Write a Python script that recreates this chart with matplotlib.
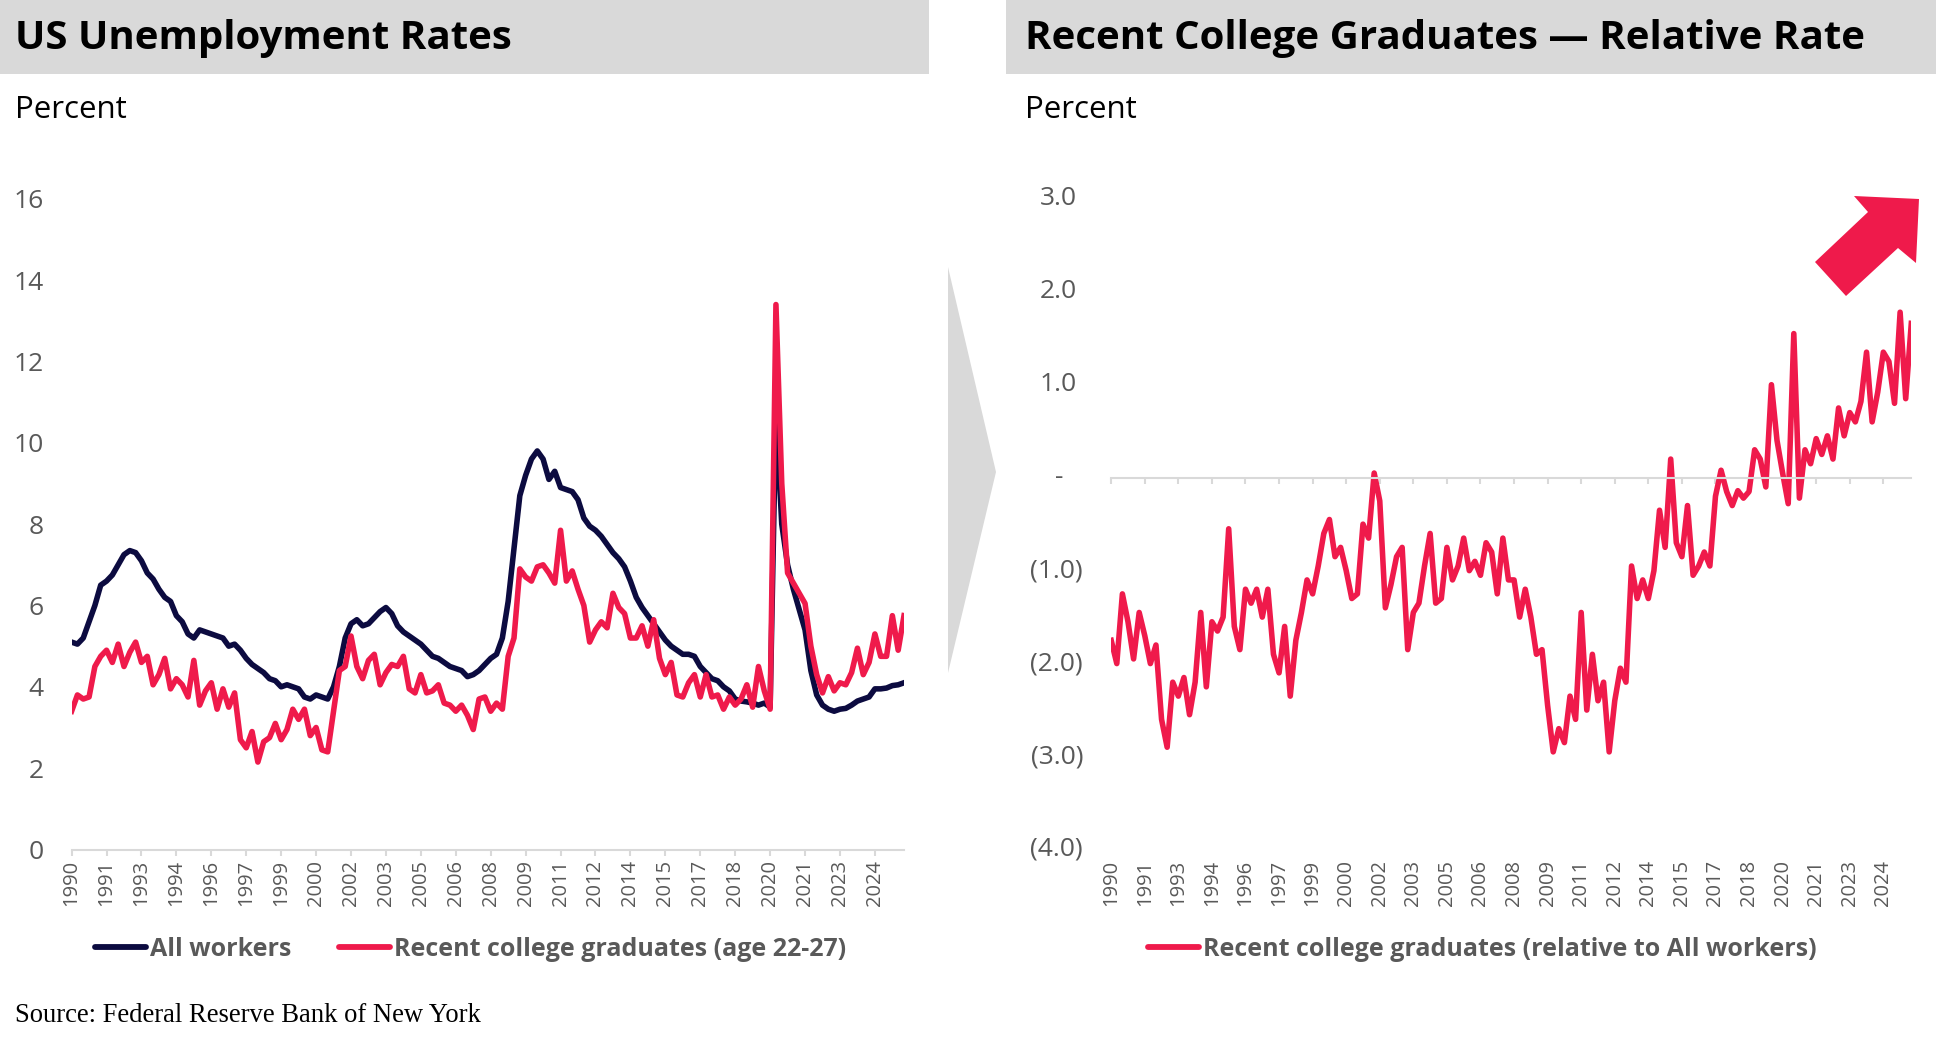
import numpy as np
import matplotlib
matplotlib.use("Agg")
import matplotlib.pyplot as plt
from matplotlib.patches import Rectangle, Polygon
from matplotlib.lines import Line2D
import matplotlib.transforms as mtransforms

# data: quarterly samples, months since Jan 1990
months = np.arange(0, 430, 3)

all_workers = [
    5.1, 5.05, 5.2, 5.6, 6.0, 6.5, 6.6, 6.75, 7.0, 7.25,
    7.35, 7.3, 7.1, 6.8, 6.65, 6.4, 6.2, 6.1, 5.75, 5.6,
    5.3, 5.2, 5.4, 5.35, 5.3, 5.25, 5.2, 5.0, 5.05, 4.9,
    4.7, 4.55, 4.45, 4.35, 4.2, 4.15, 4.0, 4.05, 4.0, 3.95,
    3.75, 3.7, 3.8, 3.75, 3.7, 4.0, 4.5, 5.2, 5.55, 5.65,
    5.5, 5.55, 5.7, 5.85, 5.95, 5.8, 5.5, 5.35, 5.25, 5.15,
    5.05, 4.9, 4.75, 4.7, 4.6, 4.5, 4.45, 4.4, 4.25, 4.3,
    4.4, 4.55, 4.7, 4.8, 5.2, 6.1, 7.4, 8.7, 9.2, 9.6,
    9.8, 9.6, 9.1, 9.3, 8.9, 8.85, 8.8, 8.6, 8.15, 7.95,
    7.85, 7.7, 7.5, 7.3, 7.15, 6.95, 6.6, 6.2, 5.95, 5.75,
    5.55, 5.35, 5.15, 5.0, 4.9, 4.8, 4.8, 4.75, 4.5, 4.35,
    4.2, 4.15, 4.0, 3.9, 3.7, 3.65, 3.63, 3.6, 3.55, 3.6,
    3.5, 10.8, 8.0, 7.0, 6.4, 5.9, 5.4, 4.4, 3.8, 3.55,
    3.45, 3.4, 3.45, 3.47, 3.55, 3.65, 3.7, 3.75, 3.95, 3.95,
    3.97, 4.03, 4.05, 4.1,
]

recent_grads = [
    3.4, 3.8, 3.7, 3.75, 4.5, 4.75, 4.9, 4.6, 5.05, 4.5,
    4.85, 5.1, 4.6, 4.75, 4.05, 4.3, 4.7, 3.95, 4.2, 4.05,
    3.75, 4.65, 3.55, 3.9, 4.1, 3.45, 3.95, 3.5, 3.85, 2.7,
    2.5, 2.9, 2.15, 2.65, 2.75, 3.1, 2.7, 2.95, 3.45, 3.2,
    3.45, 2.8, 3.0, 2.45, 2.4, 3.4, 4.4, 4.5, 5.25, 4.5,
    4.2, 4.65, 4.8, 4.05, 4.35, 4.55, 4.5, 4.75, 3.95, 3.85,
    4.3, 3.85, 3.9, 4.05, 3.6, 3.55, 3.4, 3.55, 3.3, 2.95,
    3.7, 3.75, 3.4, 3.6, 3.45, 4.75, 5.2, 6.9, 6.7, 6.6,
    6.95, 7.0, 6.8, 6.55, 7.85, 6.6, 6.85, 6.4, 6.0, 5.1,
    5.4, 5.6, 5.45, 6.3, 5.95, 5.8, 5.2, 5.2, 5.5, 5.0,
    5.65, 4.7, 4.3, 4.6, 3.8, 3.75, 4.1, 4.3, 3.75, 4.3,
    3.75, 3.8, 3.45, 3.75, 3.55, 3.7, 4.05, 3.5, 4.5, 3.9,
    3.45, 13.4, 9.0, 6.8, 6.55, 6.3, 6.05, 5.0, 4.3, 3.85,
    4.25, 3.9, 4.1, 4.05, 4.35, 4.95, 4.3, 4.6, 5.3, 4.75,
    4.75, 5.75, 4.9, 5.75,
]

relative_rate = [
    -1.75, -2.0, -1.25, -1.55, -1.95, -1.45, -1.7, -2.0, -1.8, -2.6,
    -2.9, -2.2, -2.35, -2.15, -2.55, -2.2, -1.45, -2.25, -1.55, -1.65,
    -1.5, -0.55, -1.6, -1.85, -1.2, -1.35, -1.2, -1.5, -1.2, -1.9,
    -2.1, -1.6, -2.35, -1.75, -1.45, -1.1, -1.25, -0.95, -0.6, -0.45,
    -0.85, -0.75, -1.0, -1.3, -1.25, -0.5, -0.65, 0.05, -0.25, -1.4,
    -1.15, -0.85, -0.75, -1.85, -1.45, -1.35, -0.95, -0.6, -1.35, -1.3,
    -0.75, -1.1, -0.95, -0.65, -1.0, -0.9, -1.05, -0.7, -0.8, -1.25,
    -0.65, -1.1, -1.1, -1.5, -1.2, -1.5, -1.9, -1.85, -2.45, -2.95,
    -2.7, -2.85, -2.35, -2.6, -1.45, -2.5, -1.9, -2.4, -2.2, -2.95,
    -2.4, -2.05, -2.2, -0.95, -1.3, -1.1, -1.3, -1.0, -0.35, -0.75,
    0.2, -0.7, -0.85, -0.3, -1.05, -0.95, -0.8, -0.95, -0.2, 0.08,
    -0.15, -0.3, -0.14, -0.22, -0.15, 0.3, 0.2, -0.1, 1.0, 0.4,
    0.05, -0.28, 1.55, -0.22, 0.3, 0.15, 0.42, 0.25, 0.45, 0.2,
    0.75, 0.45, 0.7, 0.6, 0.82, 1.35, 0.6, 0.92, 1.35, 1.25,
    0.8, 1.78, 0.85, 1.66,
]

x_ticks = np.arange(0, 430, 18)
x_labels = ['1990', '1991', '1993', '1994', '1996', '1997', '1999', '2000',
            '2002', '2003', '2005', '2006', '2008', '2009', '2011', '2012',
            '2014', '2015', '2017', '2018', '2020', '2021', '2023', '2024']

left_yticks = [0, 2, 4, 6, 8, 10, 12, 14, 16]
right_yticks = [-4, -3, -2, -1, 0, 1, 2, 3]
right_ylabels = ['(4.0)', '(3.0)', '(2.0)', '(1.0)', '-', '1.0', '2.0', '3.0']

NAVY = '#0C0B40'
RED = '#EF1A4B'
GRAY_TXT = '#595959'
GRAY_LINE = '#D9D9D9'
SANS = 'Open Sans'
SERIF = 'Liberation Serif'

W, H = 1936, 1039
fig = plt.figure(figsize=(W / 100, H / 100), dpi=100)
fig.patch.set_facecolor('white')


def fx(px):
    return px / W


def fy(py):
    return 1 - py / H


# title bands
fig.patches.append(Rectangle((0, fy(74)), fx(929), 74 / H, transform=fig.transFigure,
                             facecolor=GRAY_LINE, edgecolor='none', zorder=0))
fig.patches.append(Rectangle((fx(1006), fy(74)), fx(W - 1006), 74 / H, transform=fig.transFigure,
                             facecolor=GRAY_LINE, edgecolor='none', zorder=0))
fig.text(fx(15), fy(38), 'US Unemployment Rates', fontsize=29, fontweight='bold',
         family=SANS, va='center', ha='left')
fig.text(fx(1025), fy(38), 'Recent College Graduates \u2014 Relative Rate', fontsize=29,
         fontweight='bold', family=SANS, va='center', ha='left')
fig.text(fx(15), fy(110), 'Percent', fontsize=22.5, family=SANS, va='center')
fig.text(fx(1025), fy(110), 'Percent', fontsize=22.5, family=SANS, va='center')

# chevron between the panels
fig.patches.append(Polygon([(fx(948), fy(267)), (fx(996), fy(472)), (fx(948), fy(673))],
                           closed=True, transform=fig.transFigure,
                           facecolor=GRAY_LINE, edgecolor='none'))

# ---- left chart ----
ax1 = fig.add_axes([fx(71.6), fy(849.5), fx(904 - 71.6), (849.5 - 198.8) / H])
ax1.plot(months, all_workers, color=NAVY, lw=4, solid_joinstyle='round')
ax1.plot(months, recent_grads, color=RED, lw=4, solid_joinstyle='round')
ax1.set_xlim(0, months[-1])
ax1.set_ylim(0, 16)
ax1.set_yticks(left_yticks)
ax1.set_yticklabels([str(v) for v in left_yticks], family=SANS, fontsize=19, color=GRAY_TXT)
ax1.set_xticks(x_ticks)
ax1.set_xticklabels(x_labels, rotation=90, family=SANS, fontsize=14.5, color=GRAY_TXT)
ax1.tick_params(axis='y', length=0, pad=20)
ax1.tick_params(axis='x', length=4.3, width=1.5, color=GRAY_LINE, pad=3)
for s in ['top', 'right', 'left']:
    ax1.spines[s].set_visible(False)
ax1.spines['bottom'].set_color(GRAY_LINE)
ax1.spines['bottom'].set_linewidth(1.5)
ax1.patch.set_alpha(0)

leg1 = [Line2D([0], [0], color=NAVY, lw=4.2, solid_capstyle='round'),
        Line2D([0], [0], color=RED, lw=4.2, solid_capstyle='round')]
l1 = fig.legend(leg1, ['All workers', 'Recent college graduates (age 22-27)'],
                loc='center left', bbox_to_anchor=(fx(95), fy(949)), ncol=2, frameon=False,
                borderpad=0, borderaxespad=0, handlelength=2.05, handletextpad=0.15,
                columnspacing=1.9, prop={'family': SANS, 'size': 18, 'weight': 'bold'})
for t in l1.get_texts():
    t.set_color(GRAY_TXT)

# ---- right chart ----
ax2 = fig.add_axes([fx(1111.2), fy(849.5), fx(1911.3 - 1111.2), (849.5 - 198.8) / H])
ax2.plot(months, relative_rate, color=RED, lw=4, solid_joinstyle='round')
ax2.set_xlim(0, months[-1])
ax2.set_ylim(-4, 3)
ax2.set_yticks([])
for s in ['top', 'right', 'left']:
    ax2.spines[s].set_visible(False)
ax2.spines['bottom'].set_position(('data', 0))
ax2.spines['bottom'].set_color(GRAY_LINE)
ax2.spines['bottom'].set_linewidth(1.5)
ax2.set_xticks(x_ticks)
ax2.tick_params(axis='x', length=4.3, width=1.5, color=GRAY_LINE, labelbottom=False)
ax2.patch.set_alpha(0)
sec = ax2.secondary_xaxis('bottom')
sec.set_xticks(x_ticks)
sec.set_xticklabels(x_labels, rotation=90, family=SANS, fontsize=14.5, color=GRAY_TXT)
sec.tick_params(length=0, pad=7.5)
sec.spines['bottom'].set_visible(False)

ylab_tr = mtransforms.blended_transform_factory(fig.transFigure, ax2.transData)
for v, lab in zip(right_yticks, right_ylabels):
    if lab == '-':
        fig.text(fx(1059), v, lab, transform=ylab_tr, ha='center', va='center',
                 family=SANS, fontsize=19, color=GRAY_TXT)
    elif v > 0:
        fig.text(fx(1077), v, lab, transform=ylab_tr, ha='right', va='center',
                 family=SANS, fontsize=19, color=GRAY_TXT)
    else:
        fig.text(fx(1083), v, lab, transform=ylab_tr, ha='right', va='center',
                 family=SANS, fontsize=19, color=GRAY_TXT)

leg2 = [Line2D([0], [0], color=RED, lw=4.2, solid_capstyle='round')]
l2 = fig.legend(leg2, ['Recent college graduates (relative to All workers)'],
                loc='center left', bbox_to_anchor=(fx(1148), fy(949)), frameon=False,
                borderpad=0, borderaxespad=0, handlelength=2.05, handletextpad=0.15,
                prop={'family': SANS, 'size': 18, 'weight': 'bold'})
for t in l2.get_texts():
    t.set_color(GRAY_TXT)

# up-right arrow
arrow_px = [(1815, 262), (1868, 212), (1854, 196), (1919, 199),
            (1916, 263), (1898, 248), (1846, 296)]
fig.patches.append(Polygon([(fx(a), fy(b)) for a, b in arrow_px], closed=True,
                           transform=fig.transFigure, facecolor=RED, edgecolor='none'))

fig.text(fx(15), fy(1016), 'Source: Federal Reserve Bank of New York', family=SERIF,
         fontsize=19.2, va='center', color='black')

fig.savefig('out.png', dpi=100)
